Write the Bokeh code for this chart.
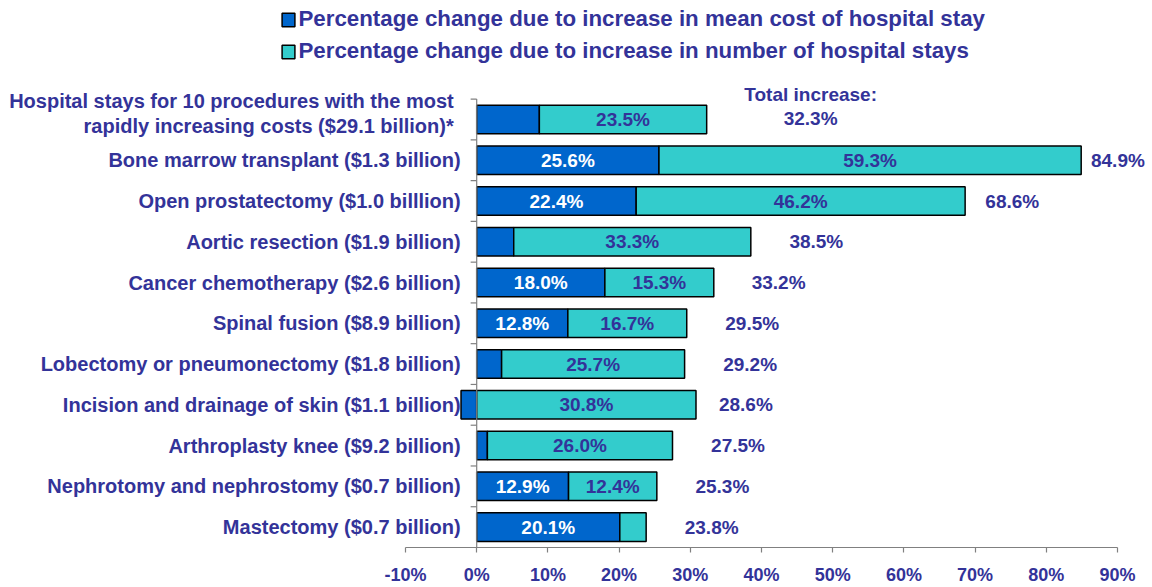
from bokeh.plotting import figure
from bokeh.models import (ColumnDataSource, Legend, LegendItem, FixedTicker, Range1d)
from bokeh.core.properties import value
from bokeh.embed import file_html
from bokeh.resources import INLINE

# ---------------- data ----------------
categories = [
    "Hospital stays for 10 procedures with the most\nrapidly increasing costs ($29.1 billion)*",
    "Bone marrow transplant ($1.3 billion)",
    "Open prostatectomy ($1.0 billlion)",
    "Aortic resection ($1.9 billion)",
    "Cancer chemotherapy ($2.6 billion)",
    "Spinal fusion ($8.9 billion)",
    "Lobectomy or pneumonectomy ($1.8 billion)",
    "Incision and drainage of skin ($1.1 billion)",
    "Arthroplasty knee ($9.2 billion)",
    "Nephrotomy and nephrostomy ($0.7 billion)",
    "Mastectomy ($0.7 billion)",
]
mean_cost_change = [8.8, 25.6, 22.4, 5.2, 18.0, 12.8, 3.5, -2.2, 1.5, 12.9, 20.1]
stay_count_change = [23.5, 59.3, 46.2, 33.3, 15.3, 16.7, 25.7, 30.8, 26.0, 12.4, 3.7]
total_increase = [32.3, 84.9, 68.6, 38.5, 33.2, 29.5, 29.2, 28.6, 27.5, 25.3, 23.8]
series_names = ["Percentage change due to increase in mean cost of hospital stay",
                "Percentage change due to increase in number of hospital stays"]
x_ticks = [-10, 0, 10, 20, 30, 40, 50, 60, 70, 80, 90]
x_tick_labels = ["-10%", "0%", "10%", "20%", "30%", "40%", "50%", "60%", "70%", "80%", "90%"]

# ---------------- styling / layout ----------------
DARK = "#0066CC"
CYAN = "#33CCCC"
TXT = "#333399"
GRAY = "#808080"
FONT = "Liberation Sans"

W, H = 1152, 587
AXIS_BORDER = 40             # space under the plot area for the x axis
LEFT_PX, RIGHT_PX = 405, 1117  # pixel positions of -10% and 90%
TOP_PX = 98.6                # top edge of the first category band
frame_bottom = H - AXIS_BORDER

n = len(categories)
ys = list(range(n))
px_per_unit = (RIGHT_PX - LEFT_PX) / (x_ticks[-1] - x_ticks[0])
x_start = x_ticks[0] - LEFT_PX / px_per_unit
x_end = x_ticks[-1] + (W - RIGHT_PX) / px_per_unit
band = (frame_bottom - TOP_PX) / n
y_top = -0.5 - TOP_PX / band

m_left = [min(0, v) for v in mean_cost_change]
m_right = [max(0, v) for v in mean_cost_change]
c_left = [max(0, v) for v in mean_cost_change]
c_right = [a + b for a, b in zip(c_left, stay_count_change)]

multi = ["\n" in c for c in categories]
src = ColumnDataSource(dict(
    y=ys, cat=categories,
    cat_xoff=[-23 if mlt else -16 for mlt in multi],
    cat_yoff=[-6 if mlt else 0 for mlt in multi],
    m_left=m_left, m_right=m_right, c_left=c_left, c_right=c_right,
    m_mid=[(a + b) / 2 for a, b in zip(m_left, m_right)],
    c_mid=[(a + b) / 2 for a, b in zip(c_left, c_right)],
    m_lab=[f"{v:.1f}%" if abs(v) >= 10 else "" for v in mean_cost_change],
    c_lab=[f"{v:.1f}%" if abs(v) >= 10 else "" for v in stay_count_change],
))

p = figure(width=W, height=H, output_backend="svg", toolbar_location=None,
           x_range=Range1d(x_start, x_end), y_range=Range1d(n - 0.5, y_top),
           min_border_left=0, min_border_right=0, min_border_top=0,
           min_border_bottom=AXIS_BORDER)
p.outline_line_color = None
p.grid.visible = False
p.yaxis.visible = False

r_mean = p.hbar(y="y", left="m_left", right="m_right", height=0.7, source=src,
                fill_color=DARK, line_color="black", line_width=1.5)
r_cnt = p.hbar(y="y", left="c_left", right="c_right", height=0.7, source=src,
               fill_color=CYAN, line_color="black", line_width=1.5)

# category axis line at 0 and its tick marks at band boundaries
bounds = [i - 0.5 for i in range(n + 1)]
p.segment(x0=[0], x1=[0], y0=[bounds[0]], y1=[bounds[-1]], line_color=GRAY, line_width=1.2)
p.segment(x0=[-0.85] * len(bounds), x1=[0] * len(bounds), y0=bounds, y1=bounds,
          line_color=GRAY, line_width=1.2)

# category labels
p.text(x=0, y="y", text="cat", source=src, x_offset="cat_xoff", y_offset="cat_yoff",
       text_align="right", text_baseline="middle", text_color=TXT,
       text_font=value(FONT), text_font_style="bold", text_font_size="20px",
       text_line_height=1.1)

# in-bar labels
p.text(x="m_mid", y="y", text="m_lab", source=src, text_align="center",
       text_baseline="middle", text_color="white", text_font=value(FONT),
       text_font_style="bold", text_font_size="19px")
p.text(x="c_mid", y="y", text="c_lab", source=src, text_align="center",
       text_baseline="middle", text_color=TXT, text_font=value(FONT),
       text_font_style="bold", text_font_size="19px")

# totals
tot_x = [t + 9.2 - max(0, t - 40) * 0.09 for t in total_increase[1:]]
tot_src = ColumnDataSource(dict(x=tot_x, y=ys[1:],
                                t=[f"{t:.1f}%" for t in total_increase[1:]]))
p.text(x="x", y="y", text="t", source=tot_src, text_align="center",
       text_baseline="middle", text_color=TXT, text_font=value(FONT),
       text_font_style="bold", text_font_size="19px")
first_src = ColumnDataSource(dict(x=[total_increase[0] + 14.6], y=[ys[0]],
                                  t=[f"Total increase:\n{total_increase[0]:.1f}%"]))
p.text(x="x", y="y", text="t", source=first_src, text_align="center",
       text_baseline="middle", text_color=TXT, text_font=value(FONT),
       text_font_style="bold", text_font_size="19px", y_offset=-13,
       text_line_height=1.15)

# x axis
ax = p.xaxis[0]
ax.ticker = FixedTicker(ticks=x_ticks)
ax.bounds = (x_ticks[0], x_ticks[-1])
ax.major_label_overrides = {t: l for t, l in zip(x_ticks, x_tick_labels)}
ax.axis_line_color = GRAY
ax.axis_line_width = 1.2
ax.major_tick_line_color = GRAY
ax.major_tick_line_width = 1.2
ax.minor_tick_line_color = None
ax.major_tick_in = 0
ax.major_tick_out = 5
ax.major_label_standoff = 12
ax.major_label_text_font = FONT
ax.major_label_text_font_style = "bold"
ax.major_label_text_font_size = "18px"
ax.major_label_text_color = TXT

# legend
legend = Legend(items=[LegendItem(label=series_names[0], renderers=[r_mean]),
                       LegendItem(label=series_names[1], renderers=[r_cnt])],
                location=(279.5, frame_bottom - 54 - 10), orientation="vertical")
legend.border_line_color = None
legend.background_fill_alpha = 0
legend.padding = 0
legend.margin = 0
legend.spacing = 6
legend.label_height = 24
legend.glyph_height = 17
legend.glyph_width = 16
legend.label_standoff = 3
legend.label_text_font = FONT
legend.label_text_font_style = "bold"
legend.label_text_font_size = "22.3px"
legend.label_text_color = TXT
p.add_layout(legend)

open("out.html", "w").write(file_html(p, INLINE))
